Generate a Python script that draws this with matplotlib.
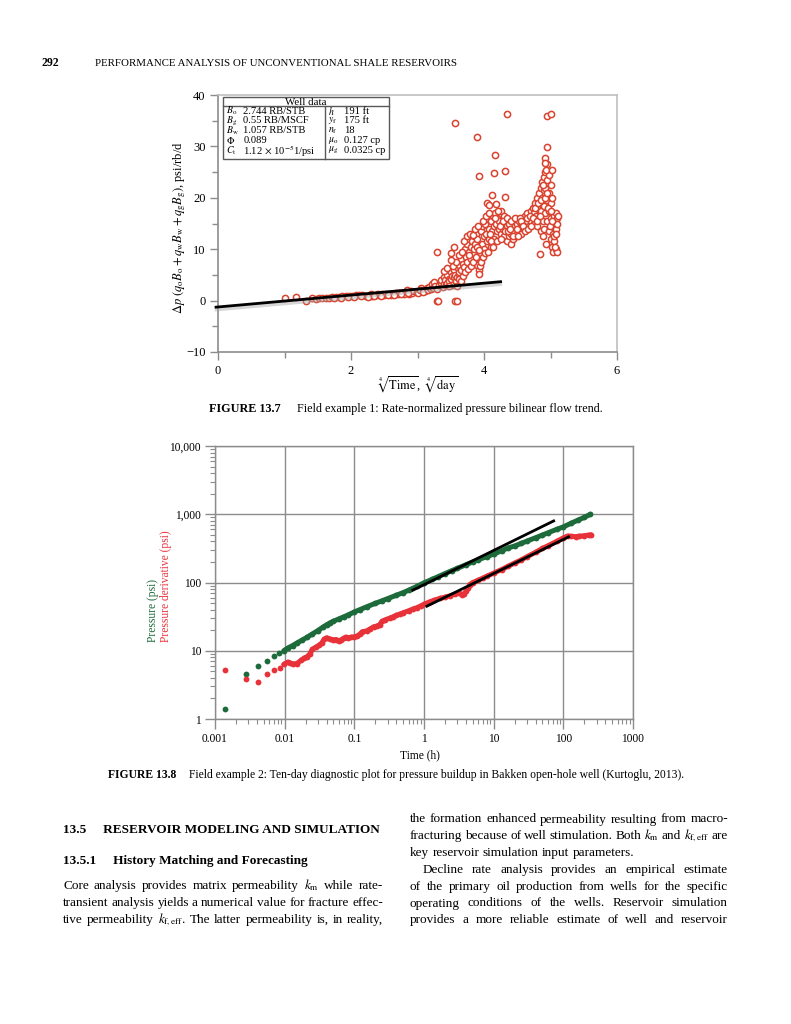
import matplotlib
matplotlib.use("Agg")
import matplotlib.pyplot as plt
from matplotlib.patches import Rectangle
from matplotlib.ticker import MultipleLocator, LogLocator, FixedLocator, FixedFormatter, NullFormatter

plt.rcParams['font.family'] = ['Liberation Serif', 'DejaVu Serif']
plt.rcParams['mathtext.fontset'] = 'stix'

W, H = 791, 1024

# ---------------- Figure 13.7 data (4th root of time, rate-normalized dp) ----------------
flat_pts = [(1.00, 0.5), (1.18, 0.7), (1.32, -0.1), (1.42, 0.45), (1.47, 0.4), (1.52, 0.5),
            (1.57, 0.5), (1.62, 0.55), (1.67, 0.6), (1.72, 0.65), (1.77, 0.7), (1.82, 0.75),
            (1.87, 0.8), (1.92, 0.85), (1.97, 0.9), (2.02, 0.95), (2.07, 1.0), (2.12, 1.0),
            (2.17, 1.05), (2.22, 0.95), (2.27, 0.9), (2.32, 0.95), (2.37, 1.05), (2.42, 1.1),
            (2.47, 1.2), (2.52, 1.25), (2.57, 1.3), (2.62, 1.35), (2.67, 1.4), (2.72, 1.5),
            (2.77, 1.55), (2.82, 1.6), (2.84, 2.1), (2.87, 1.3), (2.92, 1.55), (2.97, 1.65),
            (3.02, 1.7), (3.06, 2.4), (3.09, 1.8), (3.12, 1.9), (2.30, 1.2), (2.40, 1.3),
            (2.50, 1.0), (2.60, 1.1), (2.70, 1.2), (2.80, 1.3), (2.90, 1.9), (3.00, 1.5),
            (3.04, 2.0), (3.08, 1.6), (3.14, 2.5), (3.16, 2.1), (1.75, 0.5), (1.85, 0.6),
            (1.95, 0.7), (2.05, 0.75), (2.15, 0.8), (2.25, 0.75), (2.35, 0.8), (2.45, 0.9),
            (2.55, 1.05), (2.65, 1.15), (2.75, 1.3), (2.85, 1.45)]

rise_pts = [(3.18, 2.6), (3.20, 2.2), (3.22, 3.3), (3.24, 2.4), (3.25, 3.6), (3.27, 2.8),
            (3.30, 2.2), (3.32, 3.0), (3.35, 3.5), (3.35, 4.0), (3.38, 2.6), (3.40, 3.2),
            (3.40, 4.5), (3.42, 4.0), (3.43, 3.0), (3.45, 3.4), (3.45, 5.0), (3.47, 4.2),
            (3.48, 3.8), (3.50, 4.2), (3.50, 5.5), (3.52, 3.0), (3.52, 4.8), (3.55, 4.5),
            (3.55, 6.0), (3.57, 5.0), (3.58, 3.8), (3.60, 4.6), (3.60, 6.5), (3.62, 5.2),
            (3.62, 5.5), (3.63, 7.0), (3.63, 4.2), (3.65, 6.0), (3.66, 8.0), (3.68, 7.2),
            (3.70, 9.0), (3.70, 6.5), (3.72, 10.0), (3.73, 8.5), (3.75, 7.5), (3.75, 11.0),
            (3.77, 9.5), (3.78, 12.0), (3.80, 10.5), (3.80, 8.0), (3.82, 11.5), (3.83, 9.0),
            (3.85, 12.5), (3.85, 10.0), (3.87, 11.0), (3.88, 13.0), (3.90, 12.0), (3.90, 7.0),
            (3.92, 6.0), (3.93, 5.2), (3.92, 8.0), (3.95, 9.0), (3.95, 13.5), (3.97, 11.0),
            (3.97, 14.5), (4.00, 12.5), (4.00, 10.0), (4.02, 15.0), (4.03, 13.0), (4.05, 11.5),
            (4.05, 16.0), (4.07, 14.0), (4.08, 12.0), (4.10, 15.5), (4.10, 10.5), (4.12, 13.5),
            (4.13, 16.5), (4.15, 14.5), (4.15, 12.0), (4.17, 17.0), (4.18, 15.0), (4.20, 13.5),
            (4.20, 16.0), (4.22, 14.0), (4.23, 15.5), (4.25, 17.5), (4.25, 13.0), (4.27, 15.0),
            (4.28, 14.0), (4.30, 16.5), (4.30, 12.5), (4.32, 15.0), (4.33, 13.5), (4.35, 11.5),
            (4.35, 14.5), (4.37, 12.5), (4.38, 15.0), (4.40, 13.0), (4.40, 11.0), (4.42, 14.0),
            (4.43, 12.0), (4.45, 15.5), (4.45, 13.5), (4.47, 14.5), (4.48, 12.5), (4.50, 15.0),
            (4.50, 13.0), (4.52, 14.0), (4.53, 15.5), (4.55, 14.5), (4.55, 13.0), (4.57, 15.0),
            (4.58, 16.0), (4.60, 14.0), (4.60, 15.5), (4.62, 16.5), (4.63, 14.5), (4.65, 15.5),
            (4.65, 17.0), (4.67, 16.0), (4.68, 14.5), (4.70, 17.5), (4.70, 15.5), (4.72, 16.5),
            (4.73, 18.0), (4.75, 17.0), (4.75, 15.0), (4.77, 19.0), (4.78, 16.5), (4.80, 20.0),
            (4.80, 18.0), (4.80, 14.5), (4.82, 21.0), (4.82, 16.0), (4.83, 19.0), (4.85, 22.0),
            (4.85, 17.5), (4.85, 13.5), (4.87, 23.0), (4.87, 20.0), (4.88, 15.5), (4.88, 12.5),
            (4.90, 24.0), (4.90, 21.5), (4.90, 18.5), (4.90, 14.0), (4.92, 25.0), (4.92, 22.0),
            (4.92, 17.0), (4.93, 11.0), (4.95, 26.5), (4.95, 23.5), (4.95, 19.5), (4.95, 15.5),
            (4.97, 24.5), (4.97, 21.0), (4.97, 13.5), (4.98, 17.5), (5.00, 22.5), (5.00, 19.0),
            (5.00, 16.0), (5.00, 12.0), (5.02, 20.0), (5.02, 14.5), (5.02, 10.5), (5.04, 17.0),
            (5.04, 13.0), (5.04, 9.5), (5.06, 16.5), (5.06, 15.0), (5.06, 11.5), (5.08, 17.0),
            (5.08, 14.0), (5.08, 10.0), (5.10, 16.0), (5.10, 15.0), (5.10, 9.5), (4.91, 27.8),
            (4.92, 26.8), (4.93, 25.5)]

spread_pts = [(3.40, 5.8), (3.45, 6.3), (3.48, 2.8), (3.53, 6.8), (3.58, 7.5), (3.60, 2.9),
              (3.63, 8.8), (3.65, 3.8), (3.67, 9.5), (3.68, 4.8), (3.70, 11.5), (3.72, 5.5),
              (3.74, 12.5), (3.76, 6.2), (3.78, 8.8), (3.79, 13.0), (3.81, 6.8), (3.83, 12.8),
              (3.84, 7.5), (3.86, 14.0), (3.88, 8.5), (3.89, 10.5), (3.91, 14.5), (3.93, 9.8),
              (3.94, 6.8), (3.96, 7.5), (3.98, 8.5), (3.99, 15.5), (4.01, 9.2), (4.03, 16.5),
              (4.06, 9.5), (4.08, 17.0), (4.09, 13.0), (4.11, 11.5), (4.14, 10.5), (4.16, 16.0),
              (4.19, 11.5), (4.21, 17.5), (4.24, 14.5), (4.26, 12.0), (4.29, 15.5), (4.31, 13.5),
              (4.34, 16.0), (4.36, 13.5), (4.39, 14.0), (4.41, 15.5), (4.44, 12.5), (4.46, 16.0),
              (4.49, 14.0), (4.51, 12.5), (4.54, 16.0), (4.56, 15.5), (4.59, 14.5), (4.61, 13.5),
              (4.64, 16.0), (4.66, 14.0), (4.69, 16.5), (4.71, 14.5), (4.74, 16.0), (4.76, 18.0),
              (4.79, 15.5), (4.81, 19.0), (4.84, 16.5), (4.86, 19.5), (4.89, 22.5), (4.91, 20.0),
              (4.94, 21.0), (4.96, 18.0), (4.99, 14.5), (5.01, 17.5), (5.03, 15.5), (5.05, 12.5),
              (5.07, 10.5), (5.09, 13.0), (5.11, 16.5)]

outlier_pts = [(3.29, 0.0), (3.31, 0.0), (3.57, 0.0), (3.60, 0.0), (3.30, 9.4), (3.51, 9.3),
               (3.55, 10.4), (3.51, 7.9), (3.56, 34.6), (4.35, 36.3), (4.95, 35.9), (5.00, 36.4),
               (3.90, 31.9), (4.94, 29.9), (4.17, 28.3), (3.92, 24.2), (4.15, 24.9), (4.32, 25.3),
               (5.02, 25.4), (4.12, 20.5), (4.32, 20.1), (4.04, 18.9), (4.08, 18.6), (4.18, 18.8),
               (4.84, 9.0)]

trend_x = [-0.05, 4.27]
trend_y = [-1.3, 3.7]

well_left_sym = [r'$B_{\rm o}$', r'$B_{\rm g}$', r'$B_{\rm w}$', r'$\Phi$', r'$C_{\rm t}$']
well_left_val = ['2.744 RB/STB', '0.55 RB/MSCF', '1.057 RB/STB', '0.089', r'1.12 $\times$ 10$^{-5}$1/psi']
well_right_sym = [r'$h$', r'$y_{\rm f}$', r'$n_{\rm f}$', r'$\mu_{\rm o}$', r'$\mu_{\rm g}$']
well_right_val = ['191 ft', '175 ft', '18', '0.127 cp', '0.0325 cp']

# ---------------- Figure 13.8 data (diagnostic log-log plot) ----------------
p_early_t = [0.0014, 0.0028, 0.0042, 0.0056, 0.0070, 0.0083]
p_early = [1.4, 4.6, 6.0, 7.1, 8.3, 9.3]
p_t = [0.0097, 0.011, 0.013, 0.015, 0.018, 0.021, 0.025, 0.03, 0.035, 0.04, 0.045, 0.05,
       0.06, 0.07, 0.08, 0.1, 0.12, 0.15, 0.2, 0.25, 0.3, 0.4, 0.5, 0.6, 0.8, 1.0, 1.3, 1.6,
       2.0, 2.5, 3.0, 4.0, 5.0, 6.0, 8.0, 10, 13, 16, 20, 25, 30, 40, 50, 60, 80, 100, 130,
       160, 200, 245]
p_vals = [10.0, 10.9, 11.9, 13.0, 14.4, 15.8, 17.6, 19.8, 22.0, 24.0, 25.7, 27.0,
          29.3, 31.3, 33.2, 37.0, 40.0, 44.0, 49.5, 54.0, 58.0, 65.0, 71.0, 77.0, 88.0, 99, 111, 122,
          135, 149, 161, 182, 200, 215, 240, 260, 292, 320, 343, 375, 404, 453, 495, 534, 600, 653, 740,
          815, 900, 1000]

dp_early_t = [0.0014, 0.0028, 0.0042, 0.0056, 0.0070, 0.0085]
dp_early = [5.2, 3.9, 3.5, 4.5, 5.3, 5.5]
dp_t = [0.0097, 0.011, 0.012, 0.013, 0.015, 0.017, 0.019, 0.021, 0.023, 0.025, 0.028, 0.031,
        0.034, 0.037, 0.040, 0.045, 0.050, 0.055, 0.060, 0.065, 0.070, 0.075, 0.08, 0.09, 0.10,
        0.11, 0.12, 0.13, 0.15, 0.17, 0.19, 0.21, 0.23, 0.25, 0.28, 0.32, 0.36, 0.4, 0.45, 0.5,
        0.6, 0.7, 0.8, 0.9, 1.0, 1.2, 1.4, 1.7, 2.0, 2.4, 2.8, 3.2, 3.5, 3.7, 4.0, 4.3, 4.5,
        5.0, 6.0, 7.0, 8.0, 10, 13, 16, 20, 25, 30, 40, 50, 60, 80, 100, 115, 130, 150, 170,
        200, 230, 250]
dp_vals = [6.3, 6.8, 6.6, 6.4, 6.5, 7.2, 7.8, 8.2, 9.0, 10.5, 11.3, 12.0,
           13.0, 14.8, 15.5, 14.8, 14.5, 14.6, 14.0, 14.5, 15.2, 15.8, 15.5, 15.8, 16.0,
           16.5, 17.5, 19.0, 19.5, 21.0, 22.5, 23.0, 24.0, 27.0, 28.5, 30.0, 31.5, 33.0, 34.5, 36.0,
           38.5, 41.0, 43.0, 45.5, 48.0, 52.0, 55.0, 58.5, 61.0, 64.0, 68.0, 70.0, 66.0, 68.0, 74.0, 82.0, 93.0,
           100, 108, 116, 124, 137, 155, 172, 193, 215, 238, 278, 315, 345, 400, 450, 480, 475, 470, 478,
           485, 495, 500]

fit1_t, fit1_v = [0.69, 72.6], [77, 798]
fit2_t, fit2_v = [1.1, 119], [45, 466]

GREEN = '#1d6a3a'
RED = '#e8323a'
GREY = '0.55'

fig = plt.figure(figsize=(W / 100, H / 100), dpi=100)
fig.patch.set_facecolor('white')


def fx(px):
    return px / W


def fy(py):
    return 1 - py / H


# ---------------- header ----------------
fig.text(fx(41), fy(66), '292', fontsize=8.5, weight='bold', va='baseline')
fig.text(fx(95), fy(66), 'PERFORMANCE ANALYSIS OF UNCONVENTIONAL SHALE RESERVOIRS',
         fontsize=7.8, va='baseline')

# ---------------- Figure 13.7 ----------------
ax1 = fig.add_axes([fx(218), fy(352), (617 - 218) / W, (352 - 95) / H])
all_pts = flat_pts + rise_pts + spread_pts + outlier_pts
ax1.scatter([q[0] for q in all_pts], [q[1] for q in all_pts], s=20, facecolors='white',
            edgecolors='#d9432f', linewidths=1.1, zorder=3)
ax1.plot(trend_x, [v - 0.4 for v in trend_y], color='0.65', lw=3.2, alpha=0.45,
         clip_on=False, zorder=4, solid_capstyle='butt')
ax1.plot(trend_x, trend_y, color='black', lw=2.0, clip_on=False, zorder=5, solid_capstyle='butt')
ax1.set_xlim(0, 6)
ax1.set_ylim(-10, 40)
ax1.xaxis.set_major_locator(MultipleLocator(2))
ax1.xaxis.set_minor_locator(MultipleLocator(1))
ax1.yaxis.set_minor_locator(MultipleLocator(5))
ax1.set_yticks([-10, 0, 10, 20, 30, 40])
ax1.set_yticklabels(['\u221210', '0', '10', '20', '30', '40'])
for s in ax1.spines.values():
    s.set_color(GREY)
    s.set_linewidth(1.2)
ax1.spines['top'].set_color('0.75')
ax1.spines['right'].set_color('0.75')
ax1.tick_params(which='major', direction='out', length=6, width=1, color=GREY,
                labelsize=9, pad=3)
ax1.tick_params(which='minor', direction='out', length=4, width=1, color=GREY)

fig.text(fx(180), fy(228),
         r'$\Delta p\ (q_{\rm o}B_{\rm o} + q_{\rm w}B_{\rm w} + q_{\rm g}B_{\rm g})$, psi/rb/d',
         rotation=90, ha='center', va='center', fontsize=9)
fig.text(fx(418), fy(385), r'$\sqrt[4]{\rm Time}$,  $\sqrt[4]{\rm day}$',
         ha='center', va='center', fontsize=9)

# well data table
x0, x1, xd = 0.0125, 0.429, 0.268
yb, yt, yh = 0.751, 0.992, 0.957
ax1.add_patch(Rectangle((x0, yb), x1 - x0, yt - yb, transform=ax1.transAxes,
                        facecolor='white', edgecolor='0.35', lw=1.0, zorder=6))
ax1.plot([x0, x1], [yh, yh], transform=ax1.transAxes, color='0.35', lw=1.0, zorder=7)
ax1.plot([xd, xd], [yb, yh], transform=ax1.transAxes, color='0.35', lw=1.0, zorder=7)
ax1.text((x0 + x1) / 2, (yt + yh) / 2 - 0.002, 'Well data', transform=ax1.transAxes,
         ha='center', va='center', fontsize=7.8, zorder=8)
row_y = [0.937, 0.899, 0.862, 0.823, 0.783]
for i, ry in enumerate(row_y):
    ax1.text(0.020, ry, well_left_sym[i], transform=ax1.transAxes, va='center', fontsize=7.0, zorder=8)
    ax1.text(0.063, ry, well_left_val[i], transform=ax1.transAxes, va='center', fontsize=7.6, zorder=8)
    ax1.text(0.276, ry, well_right_sym[i], transform=ax1.transAxes, va='center', fontsize=7.0, zorder=8)
    ax1.text(0.316, ry, well_right_val[i], transform=ax1.transAxes, va='center', fontsize=7.6, zorder=8)

# ---------------- Figure 13.8 ----------------
ax2 = fig.add_axes([fx(215), fy(719), (633 - 215) / W, (719 - 446) / H])
ax2.set_xscale('log')
ax2.set_yscale('log')
ax2.set_xlim(1e-3, 1e3)
ax2.set_ylim(1, 1e4)
ax2.grid(True, which='major', color='0.55', lw=1.0)
ax2.set_axisbelow(True)

ax2.plot(p_t, p_vals, '-', color=GREEN, lw=3.6, solid_capstyle='round', zorder=3)
ax2.plot(p_early_t + p_t, p_early + p_vals, 'o', color=GREEN, ms=4.2, mec='none', zorder=3)
ax2.plot(dp_t, dp_vals, '-', color=RED, lw=3.6, solid_capstyle='round', zorder=3)
ax2.plot(dp_early_t + dp_t, dp_early + dp_vals, 'o', color=RED, ms=4.2, mec='none', zorder=3)
ax2.plot(fit1_t, fit1_v, color='black', lw=2.0, zorder=4)
ax2.plot(fit2_t, fit2_v, color='black', lw=2.0, zorder=4)

ax2.xaxis.set_major_locator(FixedLocator([1e-3, 1e-2, 1e-1, 1, 10, 100, 1000]))
ax2.xaxis.set_major_formatter(FixedFormatter(['0.001', '0.01', '0.1', '1', '10', '100', '1000']))
ax2.xaxis.set_minor_locator(LogLocator(base=10, subs=range(2, 10), numticks=20))
ax2.xaxis.set_minor_formatter(NullFormatter())
ax2.yaxis.set_major_locator(FixedLocator([1, 10, 100, 1000, 10000]))
ax2.yaxis.set_major_formatter(FixedFormatter(['1', '10', '100', '1,000', '10,000']))
ax2.yaxis.set_minor_locator(LogLocator(base=10, subs=range(2, 10), numticks=20))
ax2.yaxis.set_minor_formatter(NullFormatter())
for s in ax2.spines.values():
    s.set_color(GREY)
    s.set_linewidth(1.0)
ax2.tick_params(which='major', direction='out', length=7, width=1, color=GREY, labelsize=8.3, pad=3)
ax2.tick_params(which='minor', direction='out', length=3.5, width=0.8, color=GREY)

fig.text(fx(153), fy(642), 'Pressure (psi)', rotation=90, ha='center', va='bottom',
         color=GREEN, fontsize=8.3)
fig.text(fx(166), fy(642), 'Pressure derivative (psi)', rotation=90, ha='center', va='bottom',
         color=RED, fontsize=8.3)
fig.text(fx(420), fy(755), 'Time (h)', ha='center', va='center', fontsize=8.3)

# ---------------- captions ----------------
renderer = fig.canvas.get_renderer()


def caption(px, py, label, body, size=8.5, gap=13):
    t = fig.text(fx(px), fy(py), label, fontsize=size, weight='bold', va='baseline')
    w = t.get_window_extent(renderer).width
    fig.text(fx(px + w + gap), fy(py), body, fontsize=size, va='baseline')


caption(209, 412, 'FIGURE 13.7', 'Field example 1: Rate-normalized pressure bilinear flow trend.',
        size=8.7, gap=16)
caption(108, 778, 'FIGURE 13.8',
        'Field example 2: Ten-day diagnostic plot for pressure buildup in Bakken open-hole well (Kurtoglu, 2013).',
        size=8.4)


# ---------------- body text ----------------
def justify(line, x0, x1, py, size=9.5, just=True):
    words = line.split()
    texts = [fig.text(0, fy(py), w, fontsize=size, va='baseline') for w in words]
    widths = [t.get_window_extent(renderer).width for t in texts]
    if just and len(words) > 1:
        gap = (x1 - x0 - sum(widths)) / (len(words) - 1)
    else:
        gap = size * 0.35
    x = x0
    for t, w in zip(texts, widths):
        t.set_x(fx(x))
        x += w + gap


fig.text(fx(63), fy(833), '13.5     RESERVOIR MODELING AND SIMULATION', fontsize=9.5,
         weight='bold', va='baseline')
fig.text(fx(63), fy(864), '13.5.1     History Matching and Forecasting', fontsize=9.5,
         weight='bold', va='baseline')

left_lines = [r'Core analysis provides matrix permeability $k_{\mathrm{m}}$ while rate-',
              'transient analysis yields a numerical value for fracture effec-',
              r'tive permeability $k_{\mathrm{f,eff}}$. The latter permeability is, in reality,']
for i, ln in enumerate(left_lines):
    justify(ln, 63, 383, 889 + i * 16.8)

right_lines = ['the formation enhanced permeability resulting from macro-',
               r'fracturing because of well stimulation. Both $k_{\mathrm{m}}$ and $k_{\mathrm{f,eff}}$ are',
               'key reservoir simulation input parameters.',
               'Decline rate analysis provides an empirical estimate',
               'of the primary oil production from wells for the specific',
               'operating conditions of the wells. Reservoir simulation',
               'provides a more reliable estimate of well and reservoir']
for i, ln in enumerate(right_lines):
    start = 423 if i == 3 else 410
    justify(ln, start, 728, 822.5 + i * 16.8, just=(i != 2))

fig.savefig('out.png', dpi=100)
